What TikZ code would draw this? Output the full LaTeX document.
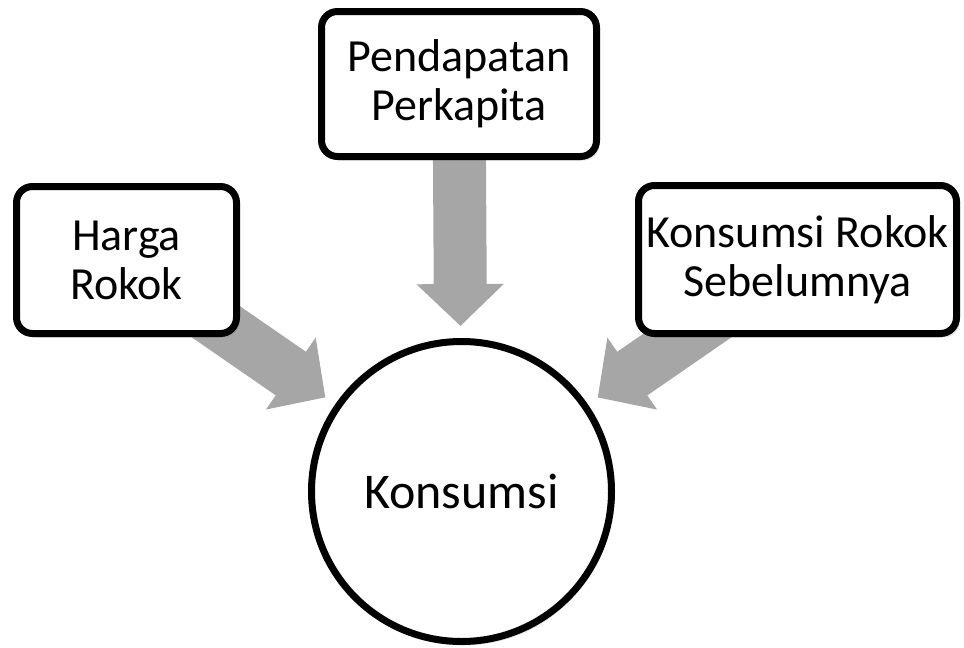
\documentclass[tikz,border=0pt]{standalone}
\usepackage{fontspec}
\setmainfont{Carlito}
\usetikzlibrary{
  arrows.meta,
  shadows,
  backgrounds
}
\definecolor{arrowgrey}{RGB}{166,166,166}

\begin{document}
\begin{tikzpicture}[
  x=1pt, y=-1pt,
  every node/.style={font=\fontsize{46}{49}\selectfont},
  factor/.style={draw=black, fill=white, line width=7pt, rounded corners=16pt,
                 align=center, inner sep=0pt,
                 drop shadow={shadow xshift=3pt, shadow yshift=-4pt, opacity=0.25}},
  result/.style={circle, draw=black, fill=white, line width=7pt,
                 minimum size=300pt, inner sep=0pt,
                 font=\fontsize{50}{54}\selectfont,
                 drop shadow={shadow xshift=2pt, shadow yshift=-4pt, opacity=0.2}},
  flow/.style={line width=53pt, arrowgrey, shorten >=12pt,
               -{Triangle[width=85pt, length=42pt]}}
]
\useasboundingbox (0,0) rectangle (964,648);

\node[factor, minimum width=220pt, minimum height=147pt] (harga) at (126.5,260) {Harga\\Rokok};
\node[factor, minimum width=275pt, minimum height=145pt] (pendapatan) at (459,84) {Pendapatan\\Perkapita};
\node[factor, minimum width=318pt, minimum height=148pt] (sebelumnya) at (797.5,259.5) {Konsumsi Rokok\\Sebelumnya};

\node[result] (konsumsi) at (461.5,491.5) {Konsumsi};

% block arrows behind the boxes
\begin{scope}[on background layer]
  \draw[flow] (harga.center) -- (konsumsi);
  \draw[flow] (pendapatan.center) -- (konsumsi);
  \draw[flow] (sebelumnya.center) -- (konsumsi);
\end{scope}

\end{tikzpicture}
\end{document}
